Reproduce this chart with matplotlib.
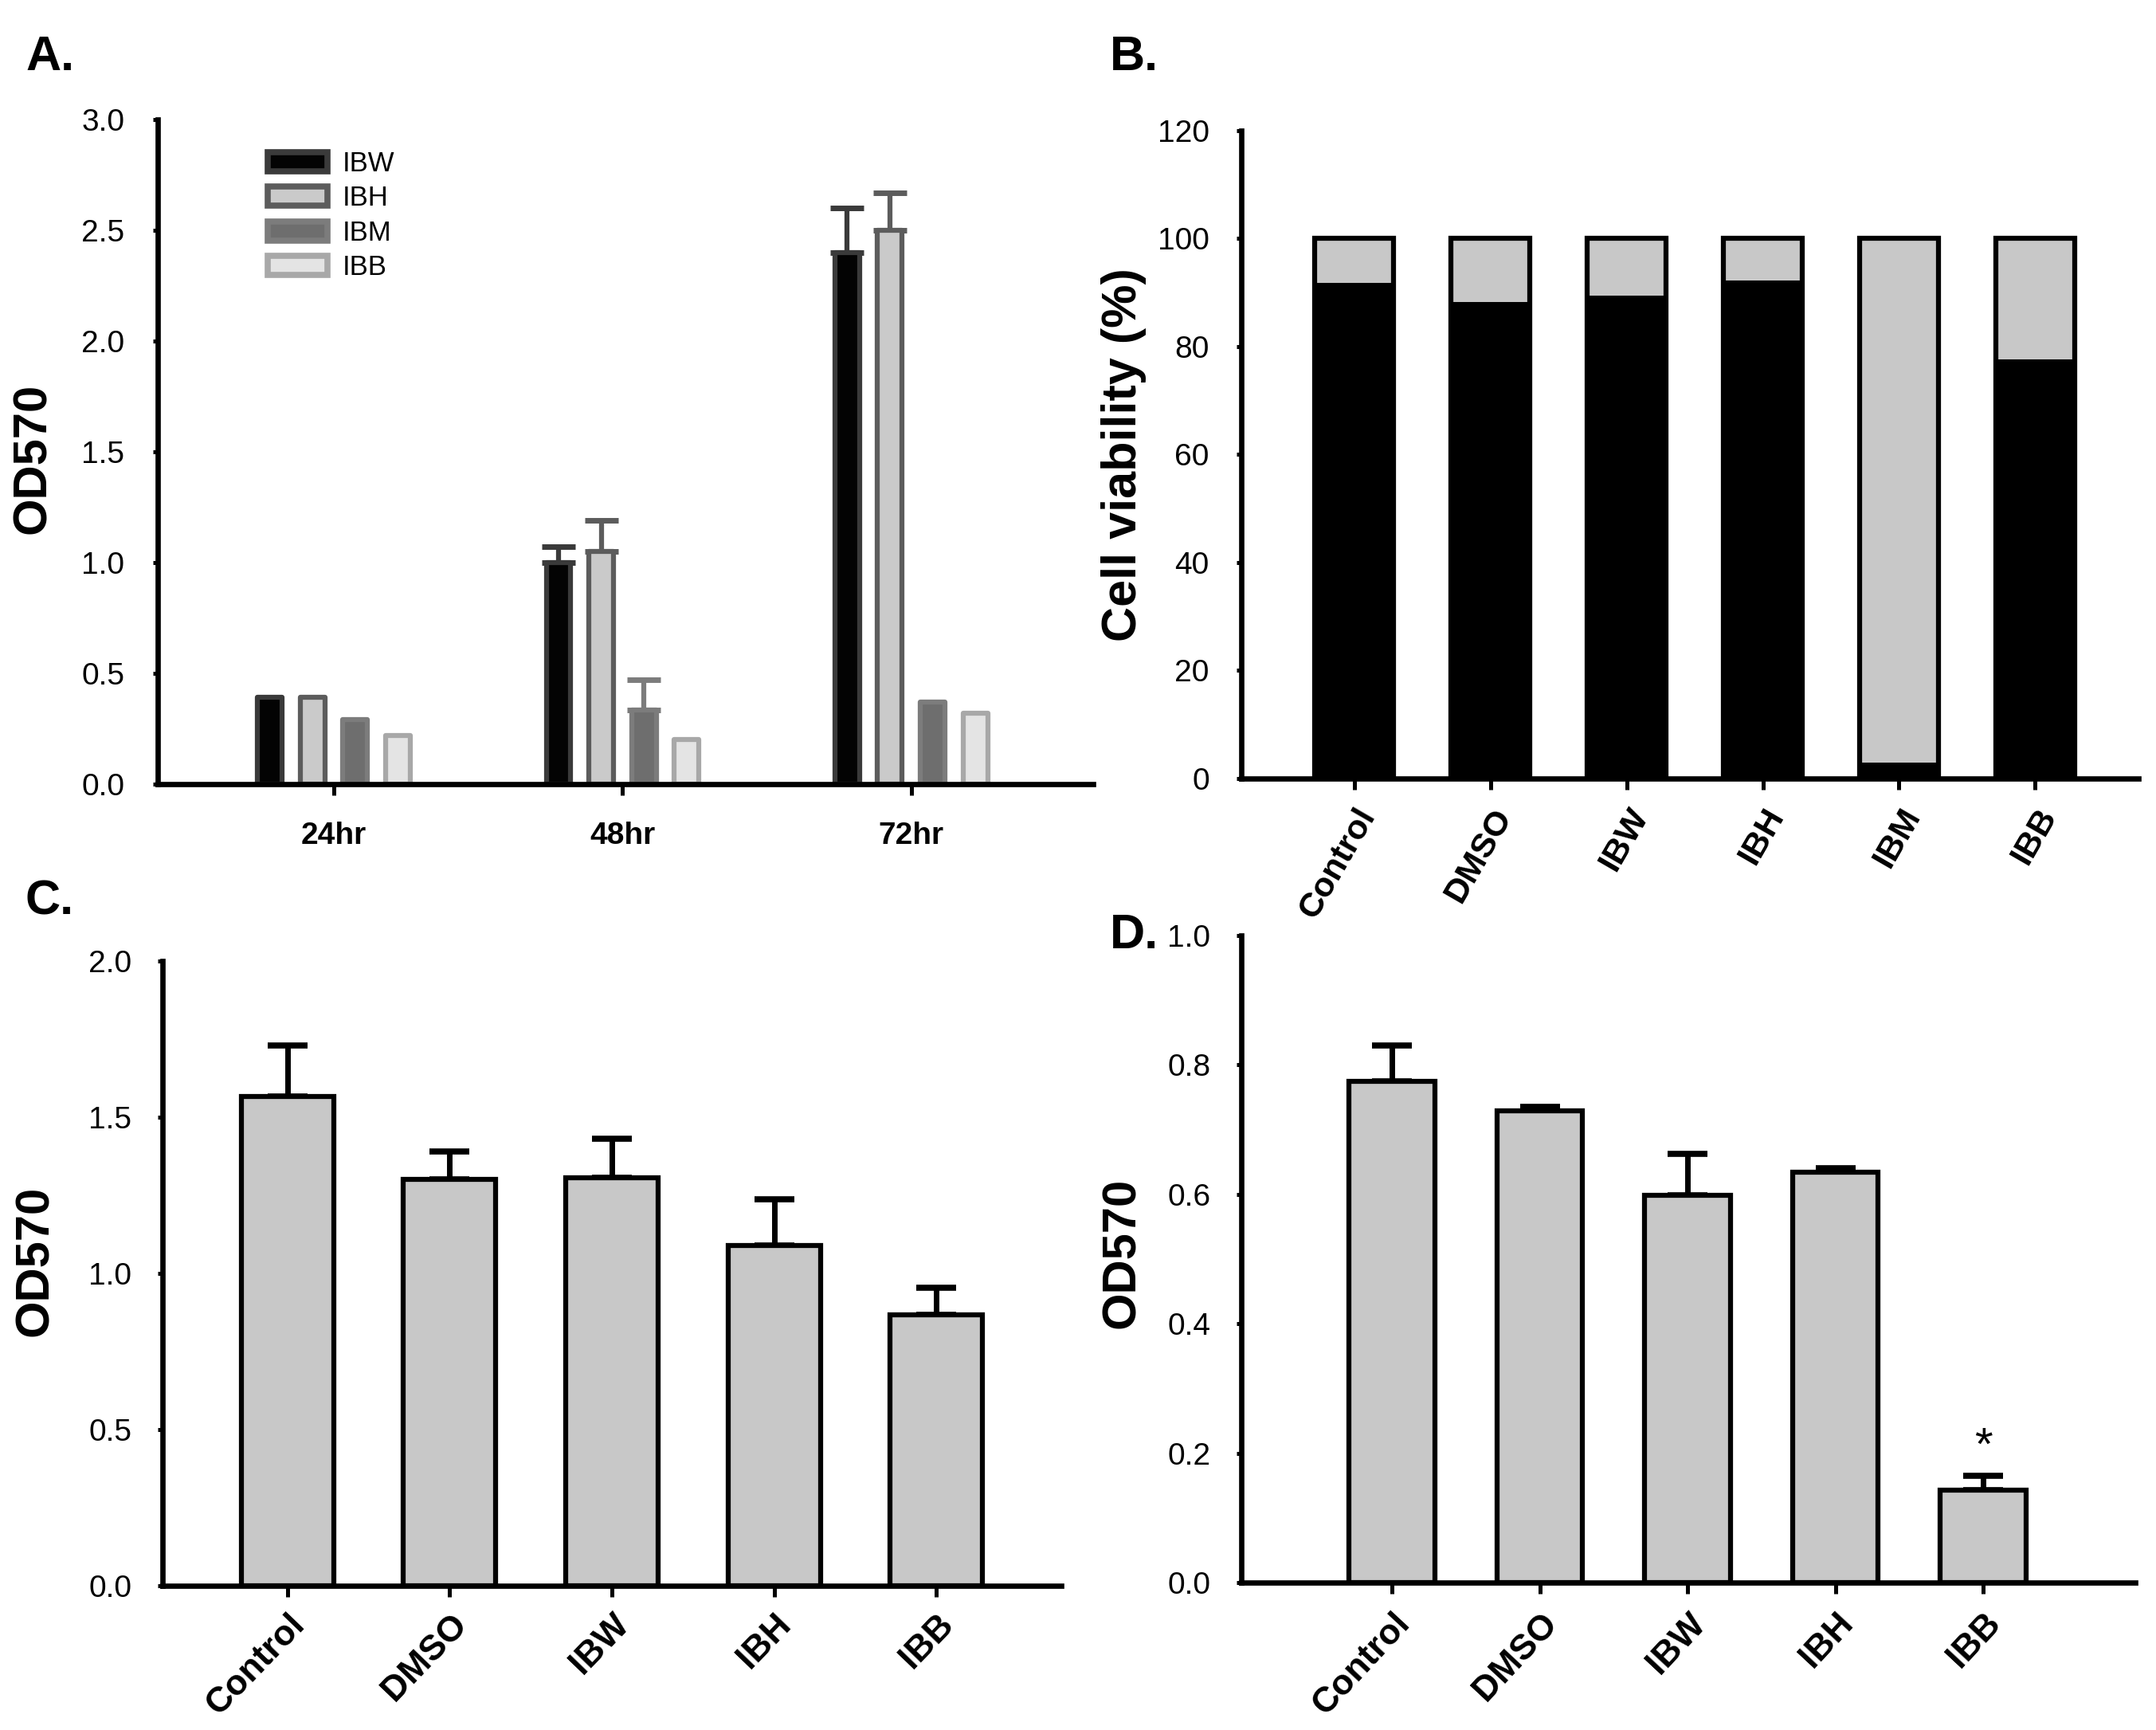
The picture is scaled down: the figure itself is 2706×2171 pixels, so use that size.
import numpy as np
import matplotlib
matplotlib.use("Agg")
import matplotlib.pyplot as plt
from matplotlib.patches import Patch

plt.rcParams['font.family'] = ['Liberation Sans', 'DejaVu Sans']

# ---- panel A data ----
times = ['24hr', '48hr', '72hr']
series_a = ['IBW', 'IBH', 'IBM', 'IBB']
vals_a = {
    'IBW': [0.39, 1.00, 2.40],
    'IBH': [0.39, 1.05, 2.50],
    'IBM': [0.29, 0.335, 0.37],
    'IBB': [0.22, 0.20, 0.32],
}
err_a = {
    'IBW': [0.0, 0.07, 0.20],
    'IBH': [0.0, 0.14, 0.17],
    'IBM': [0.0, 0.135, 0.0],
    'IBB': [0.0, 0.0, 0.0],
}
fill_a = {'IBW': '#030303', 'IBH': '#cacaca', 'IBM': '#6e6e6e', 'IBB': '#e4e4e4'}
edge_a = {'IBW': '#3a3a3a', 'IBH': '#5c5c5c', 'IBM': '#7c7c7c', 'IBB': '#a8a8a8'}

# ---- panel B data ----
groups_b = ['Control', 'DMSO', 'IBW', 'IBH', 'IBM', 'IBB']
viable_b = [91.8, 88.2, 89.4, 92.2, 2.9, 77.6]
total_b = [100, 100, 100, 100, 100, 100]

# ---- panel C data ----
groups_c = ['Control', 'DMSO', 'IBW', 'IBH', 'IBB']
vals_c = [1.565, 1.30, 1.305, 1.09, 0.866]
err_c = [0.165, 0.09, 0.125, 0.147, 0.088]

# ---- panel D data ----
groups_d = ['Control', 'DMSO', 'IBW', 'IBH', 'IBB']
vals_d = [0.775, 0.729, 0.598, 0.634, 0.143]
err_d = [0.055, 0.006, 0.065, 0.007, 0.022]

fig = plt.figure(figsize=(27.06, 21.71), dpi=100)


def style_axes(ax, ypad=24):
    for s in ['top', 'right']:
        ax.spines[s].set_visible(False)
    for s in ['left', 'bottom']:
        ax.spines[s].set_linewidth(4.8)
    ax.tick_params(axis='y', direction='out', length=4, width=3.6, pad=ypad,
                   labelsize=28)
    ax.tick_params(axis='x', direction='out', length=10, width=3.6)


# ---------------- A ----------------
axA = fig.add_axes([0.0732, 0.5468, 0.4338, 0.3841])
x = np.arange(len(times))
step = 0.148
for i, s in enumerate(series_a):
    pos = x + (i - 1.5) * step
    axA.bar(pos, vals_a[s], width=0.085, color=fill_a[s], edgecolor=edge_a[s],
            linewidth=4.5, joinstyle='round', label=s, zorder=2)
    e = np.array(err_a[s])
    m = e > 0
    if m.any():
        axA.errorbar(pos[m], np.array(vals_a[s])[m], yerr=[np.zeros(m.sum()), e[m]],
                     fmt='none', ecolor=edge_a[s], elinewidth=4.5, capsize=15,
                     capthick=5, zorder=1)
axA.set_xlim(-0.61, 2.63)
axA.set_ylim(0, 3.0)
axA.set_yticks([0.0, 0.5, 1.0, 1.5, 2.0, 2.5, 3.0])
axA.set_yticklabels(['0.0', '0.5', '1.0', '1.5', '2.0', '2.5', '3.0'])
axA.set_xticks(x)
axA.set_xticklabels(times, fontsize=28, fontweight='bold')
axA.tick_params(axis='x', pad=24)
style_axes(axA, ypad=26)
axA.set_ylabel('OD570', fontsize=43, fontweight='bold')
axA.yaxis.set_label_coords(-0.11, 0.49)
handles = [Patch(facecolor=fill_a[s], edgecolor=edge_a[s], linewidth=5.5,
                 joinstyle='round') for s in series_a]
axA.legend(handles, series_a, loc='upper left', bbox_to_anchor=(0.103, 0.974),
           frameon=False, fontsize=25, handlelength=2.15, handleheight=0.7,
           labelspacing=0.3, handletextpad=0.55, borderpad=0)

# ---------------- B ----------------
axB = fig.add_axes([0.5758, 0.5500, 0.4161, 0.3745])
xb = np.arange(len(groups_b))
dead_b = [t - v for t, v in zip(total_b, viable_b)]
axB.bar(xb, viable_b, width=0.58, color='black', linewidth=0, zorder=2)
axB.bar(xb, dead_b, bottom=viable_b, width=0.58, color='#c8c8c8', linewidth=0, zorder=2)
axB.bar(xb, total_b, width=0.58, fill=False, edgecolor='black', linewidth=4.5, zorder=3)
axB.set_xlim(-0.83, 5.76)
axB.set_ylim(0, 120)
axB.set_yticks([0, 20, 40, 60, 80, 100, 120])
axB.set_xticks(xb)
axB.set_xticklabels(groups_b, rotation=60, ha='right', rotation_mode='anchor',
                    fontsize=31, fontweight='bold')
axB.tick_params(axis='x', pad=12)
style_axes(axB, ypad=25)
axB.set_ylabel('Cell viability (%)', fontsize=44, fontweight='bold')
axB.yaxis.set_label_coords(-0.106, 0.5)

# ---------------- C ----------------
axC = fig.add_axes([0.0754, 0.0834, 0.4168, 0.3611])
xc = np.arange(len(groups_c))
axC.bar(xc, vals_c, width=0.57, color='#c8c8c8', edgecolor='black', linewidth=4.5, zorder=2)
axC.errorbar(xc, vals_c, yerr=[np.zeros(len(err_c)), err_c], fmt='none',
             ecolor='black', elinewidth=5, capsize=18, capthick=5.5, zorder=1)
axC.set_xlim(-0.77, 4.77)
axC.set_ylim(0, 2.0)
axC.set_yticks([0.0, 0.5, 1.0, 1.5, 2.0])
axC.set_yticklabels(['0.0', '0.5', '1.0', '1.5', '2.0'])
axC.set_xticks(xc)
axC.set_xticklabels(groups_c, rotation=46, ha='right', rotation_mode='anchor',
                    fontsize=32, fontweight='bold')
axC.tick_params(axis='x', pad=10)
style_axes(axC, ypad=24)
axC.set_ylabel('OD570', fontsize=43, fontweight='bold')
axC.yaxis.set_label_coords(-0.117, 0.52)

# ---------------- D ----------------
axD = fig.add_axes([0.5758, 0.0852, 0.4146, 0.374])
xd = np.arange(len(groups_d))
axD.bar(xd, vals_d, width=0.58, color='#c8c8c8', edgecolor='black', linewidth=4.5, zorder=2)
axD.errorbar(xd, vals_d, yerr=[np.zeros(len(err_d)), err_d], fmt='none',
             ecolor='black', elinewidth=5, capsize=18, capthick=5.5, zorder=1)
axD.text(xd[-1], vals_d[-1] + err_d[-1] + 0.01, '*', ha='center', va='bottom',
         fontsize=42)
axD.set_xlim(-1.02, 5.03)
axD.set_ylim(0, 1.0)
axD.set_yticks([0.0, 0.2, 0.4, 0.6, 0.8, 1.0])
axD.set_yticklabels(['0.0', '0.2', '0.4', '0.6', '0.8', '1.0'])
axD.set_xticks(xd)
axD.set_xticklabels(groups_d, rotation=47, ha='right', rotation_mode='anchor',
                    fontsize=32, fontweight='bold')
axD.tick_params(axis='x', pad=12)
style_axes(axD, ypad=24)
axD.set_ylabel('OD570', fontsize=43, fontweight='bold')
axD.yaxis.set_label_coords(-0.109, 0.51)

# panel letters
for lab, px, py in [('A.', 32, 72), ('B.', 1393, 72), ('C.', 32, 1132), ('D.', 1393, 1175)]:
    fig.text(px / 2706, 1 - py / 2171, lab, fontsize=44, fontweight='bold',
             ha='left', va='center')

fig.savefig('out.png', dpi=100)
